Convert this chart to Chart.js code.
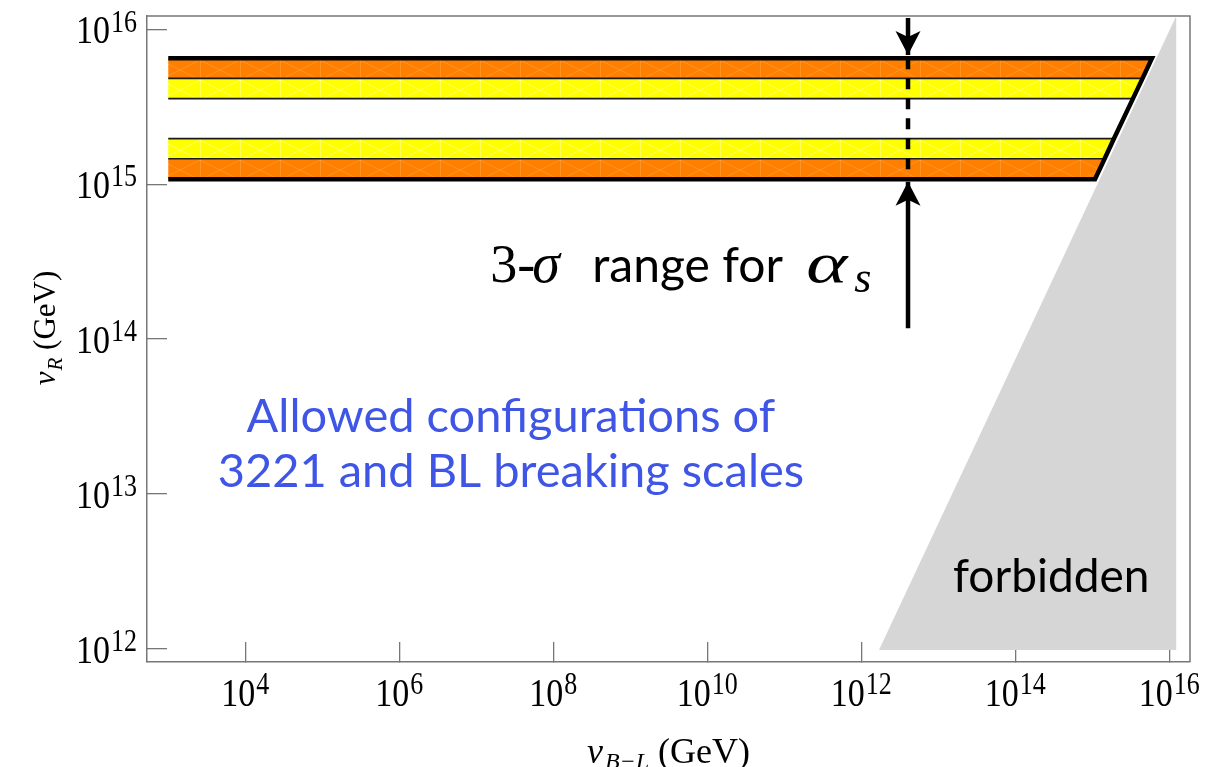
<!DOCTYPE html>
<html>
<head>
<meta charset="utf-8">
<title>vR vs vB-L</title>
<script src="https://cdn.jsdelivr.net/npm/chart.js@4.4.1/dist/chart.umd.min.js"></script>
<style>
  html, body { margin: 0; padding: 0; background: #fff; }
  .chart-box { position: relative; width: 1222px; height: 767px; }
</style>
</head>
<body>
<div class="chart-box"><canvas id="scalesChart"></canvas></div>
<script>
// every value below is log10(GeV)

// band edges on the v_R axis, top to bottom
const bandEdgesY = [15.814, 15.684, 15.553, 15.295, 15.165, 15.032];
// where each of those edges runs into the forbidden wedge (v_B-L)
const bandEdgesX = [15.775, 15.653, 15.528, 15.282, 15.16, 15.035];
const bandStartX = 3;
// what sits between two consecutive edges (null = white gap)
const bandFills = ["orange", "yellow", null, "yellow", "orange"];

// forbidden wedge corners
const forbiddenX = [12.23, 16.09, 16.09];
const forbiddenY = [11.99, 11.99, 16.087];

// 3-sigma arrows for alpha_s
const arrowX = 12.607;
const arrowTopY = [16.074, 15.835];
const arrowBottomY = [15.016, 14.07];

const xTicks = [4, 6, 8, 10, 12, 14, 16];
const yTicks = [12, 13, 14, 15, 16];
const xRange = [2.724, 16.269];
const yRange = [11.913, 16.087];

const pt = (x, y) => ({ x: 10 ** x, y: 10 ** y });

// faint cross hatch seen inside the bands
function hatch(base, line) {
    const c = document.createElement("canvas");
    c.width = 40;
    c.height = 20;
    const g = c.getContext("2d");
    g.fillStyle = base;
    g.fillRect(0, 0, 40, 20);
    g.strokeStyle = line;
    g.lineWidth = 1;
    g.beginPath();
    g.moveTo(0.5, 0);
    g.lineTo(0.5, 20);
    g.moveTo(0, 0);
    g.lineTo(40, 20);
    g.moveTo(0, 20);
    g.lineTo(40, 0);
    g.stroke();
    return g.createPattern(c, "repeat");
}
const fills = {
    orange: hatch("#ff8000", "rgba(255,175,90,0.4)"),
    yellow: hatch("#ffff00", "rgba(255,255,190,0.5)"),
};

const last = bandEdgesY.length - 1;
const datasets = [];

datasets.push({
    label: "forbidden",
    data: forbiddenX.map((x, i) => pt(x, forbiddenY[i])),
    fill: "shape",
    backgroundColor: "#d6d6d6",
    borderColor: "transparent",
    borderWidth: 0,
    order: 5,
});

bandFills.forEach((f, i) => {
    if (!f) return;
    datasets.push({
        label: "band " + i,
        data: [
            pt(bandStartX, bandEdgesY[i]),
            pt(bandEdgesX[i], bandEdgesY[i]),
            pt(bandEdgesX[i + 1], bandEdgesY[i + 1]),
            pt(bandStartX, bandEdgesY[i + 1]),
        ],
        fill: "shape",
        backgroundColor: fills[f],
        borderColor: "transparent",
        borderWidth: 0,
        order: 4,
    });
});

// thin separators between orange and yellow
for (let i = 1; i < last; i++) {
    datasets.push({
        label: "edge " + i,
        data: [pt(bandStartX, bandEdgesY[i]), pt(bandEdgesX[i], bandEdgesY[i])],
        borderColor: "#1a1a1a",
        borderWidth: 1.6,
        order: 3,
    });
}

// thick outline: top, slanted right side, bottom
datasets.push({
    label: "outline",
    data: [
        pt(bandStartX, bandEdgesY[0]),
        ...bandEdgesX.map((x, i) => pt(x, bandEdgesY[i])),
        pt(bandStartX, bandEdgesY[last]),
    ],
    borderColor: "#000",
    borderWidth: 4.5,
    order: 2,
});

datasets.push({
    label: "alpha dashed",
    data: [pt(arrowX, bandEdgesY[0]), pt(arrowX, bandEdgesY[last])],
    borderColor: "#000",
    borderWidth: 4.5,
    borderDash: [11, 9],
    order: 1,
});
datasets.push({
    label: "arrow top",
    data: arrowTopY.map((y) => pt(arrowX, y)),
    borderColor: "#000",
    borderWidth: 4.5,
    order: 1,
});
datasets.push({
    label: "arrow bottom",
    data: arrowBottomY.map((y) => pt(arrowX, y)),
    borderColor: "#000",
    borderWidth: 4.5,
    order: 1,
});

const serif = "'Liberation Serif', 'DejaVu Serif', serif";
const sans = "Lato, 'Open Sans', sans-serif";

// 10^n with a real superscript; the original labels are a bit tall
function drawPow(ctx, x, y, exp, align) {
    const base = "34px " + serif;
    const sup = "26px " + serif;
    ctx.font = base;
    const w1 = ctx.measureText("10").width;
    ctx.font = sup;
    const w2 = ctx.measureText(exp).width;
    let x0 = x;
    if (align === "center") x0 = x - (w1 + w2 + 1) / 2;
    if (align === "right") x0 = x - (w1 + w2 + 1);
    ctx.save();
    ctx.translate(x0, y);
    ctx.scale(1, 1.18);
    ctx.textAlign = "left";
    ctx.font = base;
    ctx.fillText("10", 0, 0);
    ctx.font = sup;
    ctx.fillText(exp, w1 + 1, -10);
    ctx.restore();
}

// draws pieces [text, font, gap, dy] one after the other
function drawRun(ctx, x, y, pieces) {
    let cx = x;
    pieces.forEach(([t, font, gap, dy]) => {
        ctx.font = font;
        cx += gap || 0;
        ctx.fillText(t, cx, y + (dy || 0));
        cx += ctx.measureText(t).width;
    });
    return cx - x;
}
function runWidth(ctx, pieces) {
    let w = 0;
    pieces.forEach(([t, font, gap]) => {
        ctx.font = font;
        w += (gap || 0) + ctx.measureText(t).width;
    });
    return w;
}

const framePlugin = {
    id: "framePlugin",
    beforeDatasetsDraw: (chart) => {
        const { ctx, chartArea: a } = chart;
        ctx.save();
        ctx.strokeStyle = "#777";
        ctx.lineWidth = 1.5;
        ctx.beginPath();
        ctx.moveTo(a.left, a.top);
        ctx.lineTo(a.right, a.top);
        ctx.lineTo(a.right, a.bottom);
        ctx.stroke();
        ctx.restore();
    },
};

const arrowHeadPlugin = {
    id: "arrowHeadPlugin",
    afterDatasetsDraw: (chart) => {
        const { ctx } = chart;
        const xs = chart.scales.x;
        const ys = chart.scales.y;
        const head = (xv, yv, dir) => {
            const x = xs.getPixelForValue(10 ** xv);
            const y = ys.getPixelForValue(10 ** yv);
            ctx.beginPath();
            ctx.moveTo(x, y);
            ctx.lineTo(x - 12.5, y - dir * 24);
            ctx.lineTo(x, y - dir * 18);
            ctx.lineTo(x + 12.5, y - dir * 24);
            ctx.closePath();
            ctx.fill();
        };
        ctx.save();
        ctx.fillStyle = "#000";
        head(arrowX, arrowTopY[1], 1);
        head(arrowX, arrowBottomY[0], -1);
        ctx.restore();
    },
};

const textPlugin = {
    id: "textPlugin",
    afterDraw: (chart) => {
        const { ctx, chartArea: a } = chart;
        const xs = chart.scales.x;
        const ys = chart.scales.y;
        const px = (v) => xs.getPixelForValue(10 ** v);
        const py = (v) => ys.getPixelForValue(10 ** v);
        ctx.save();
        ctx.fillStyle = "#000";
        ctx.textBaseline = "alphabetic";

        xs.ticks.forEach((t) => {
            const e = String(Math.round(Math.log10(t.value)));
            drawPow(ctx, xs.getPixelForValue(t.value), a.bottom + 44, e, "center");
        });
        ys.ticks.forEach((t) => {
            const e = String(Math.round(Math.log10(t.value)));
            drawPow(ctx, a.left - 10, ys.getPixelForValue(t.value) + 14, e, "right");
        });

        // axis titles
        ctx.textAlign = "left";
        const xTitle = [
            ["v", "italic 36px " + serif],
            ["B\u2212L", "italic 24px " + serif, 2, 6],
            [" (GeV)", "36px " + serif],
        ];
        const xw = runWidth(ctx, xTitle);
        drawRun(ctx, (a.left + a.right) / 2 - xw / 2, 763, xTitle);

        const yTitle = [
            ["v", "italic 31px " + serif],
            ["R", "italic 21px " + serif, 1, 7],
            [" (GeV)", "31px " + serif],
        ];
        const yw = runWidth(ctx, yTitle);
        ctx.save();
        ctx.translate(55, 328);
        ctx.rotate(-Math.PI / 2);
        drawRun(ctx, -yw / 2, 0, yTitle);
        ctx.restore();

        // 3-sigma note
        const ax = px(7.181);
        const ay = py(14.368);
        ctx.font = "54px " + serif;
        ctx.fillText("3-", ax, ay);
        ctx.font = "italic 56px " + serif;
        ctx.fillText("\u03c3", ax + 42, ay);
        ctx.font = "48px " + sans;
        ctx.fillText("range for", ax + 102, ay);
        // math alpha is wide and light
        ctx.save();
        ctx.translate(ax + 316, ay);
        ctx.scale(1.35, 1);
        ctx.font = "italic 58px " + serif;
        ctx.fillText("\u03b1", 0, 0);
        ctx.restore();
        ctx.font = "italic 44px " + serif;
        ctx.fillText("s", ax + 364, ay + 10);

        // blue note
        ctx.fillStyle = "#3e55e6";
        ctx.textAlign = "center";
        ctx.font = "47px " + sans;
        ctx.fillText("Allowed configurations of", px(7.45), py(13.399));
        ctx.fillText("3221 and BL breaking scales", px(7.45), py(13.044));

        ctx.fillStyle = "#000";
        ctx.textAlign = "left";
        ctx.font = "46px " + sans;
        ctx.fillText("forbidden", px(13.191), py(12.365));
        ctx.restore();
    },
};

const axisGrid = {
    drawOnChartArea: false,
    drawTicks: true,
    tickLength: -20,
    color: "#777",
    lineWidth: 1.3,
};

new Chart(document.getElementById("scalesChart").getContext("2d"), {
    type: "scatter",
    data: { datasets },
    options: {
        responsive: true,
        maintainAspectRatio: false,
        animation: false,
        showLine: true,
        layout: { padding: { top: 16, right: 32, left: 0, bottom: 0 } },
        elements: {
            point: { radius: 0, hoverRadius: 0 },
            line: { tension: 0 },
        },
        plugins: {
            legend: { display: false },
            tooltip: { enabled: false },
        },
        scales: {
            x: {
                type: "logarithmic",
                min: 10 ** xRange[0],
                max: 10 ** xRange[1],
                afterBuildTicks: (axis) => {
                    axis.ticks = xTicks.map((e) => ({ value: 10 ** e }));
                },
                afterFit: (axis) => {
                    axis.height = 105;
                },
                ticks: { display: false },
                grid: axisGrid,
                border: { color: "#777", width: 1.5 },
            },
            y: {
                type: "logarithmic",
                min: 10 ** yRange[0],
                max: 10 ** yRange[1],
                afterBuildTicks: (axis) => {
                    axis.ticks = yTicks.map((e) => ({ value: 10 ** e }));
                },
                afterFit: (axis) => {
                    axis.width = 147;
                },
                ticks: { display: false },
                grid: axisGrid,
                border: { color: "#777", width: 1.5 },
            },
        },
    },
    plugins: [framePlugin, arrowHeadPlugin, textPlugin],
});
</script>
</body>
</html>
